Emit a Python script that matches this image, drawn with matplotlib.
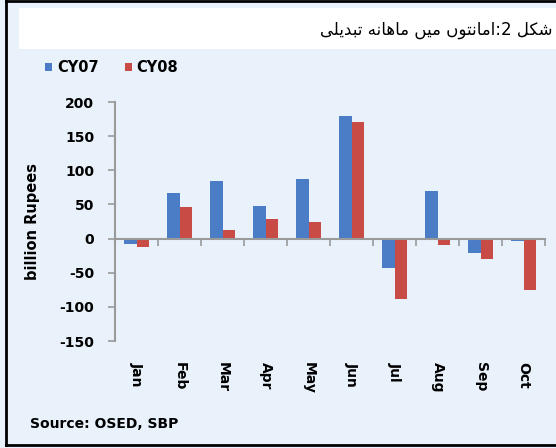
import matplotlib
matplotlib.use("Agg")
import matplotlib.pyplot as plt
import numpy as np
from matplotlib.patches import Rectangle
from matplotlib.lines import Line2D

# ---------------- data ----------------
months = ["Jan", "Feb", "Mar", "Apr", "May", "Jun", "Jul", "Aug", "Sep", "Oct"]
cy07 = [-8, 67, 85, 47, 87, 180, -43, 70, -21, -4]
cy08 = [-13, 46, 13, 29, 24, 171, -88, -10, -30, -75]
series_names = ["CY07", "CY08"]
yticks = [-150, -100, -50, 0, 50, 100, 150, 200]
title_text = "شکل 2:امانتوں میں ماہانہ تبدیلی"
ylabel_text = "billion Rupees"
source_text = "Source: OSED, SBP"

# ------------- simple Arabic/Urdu shaping (presentation forms) -------------
# (heh goal final/initial/medial forms are not in any installed font, so the
#  visually equivalent heh forms are used for them)
FORMS = {
    "ش": ("\uFEB5", "\uFEB6", "\uFEB7", "\uFEB8"),
    "ک": ("\uFB8E", "\uFB8F", "\uFB90", "\uFB91"),
    "ل": ("\uFEDD", "\uFEDE", "\uFEDF", "\uFEE0"),
    "ا": ("\uFE8D", "\uFE8E", None, None),
    "م": ("\uFEE1", "\uFEE2", "\uFEE3", "\uFEE4"),
    "ن": ("\uFEE5", "\uFEE6", "\uFEE7", "\uFEE8"),
    "ت": ("\uFE95", "\uFE96", "\uFE97", "\uFE98"),
    "و": ("\uFEED", "\uFEEE", None, None),
    "ں": ("\uFB9E", "\uFB9F", None, None),
    "ی": ("\uFBFC", "\uFBFD", "\uFBFE", "\uFBFF"),
    "ہ": ("\uFBA6", "\uFEEA", "\uFEEB", "\uFEEC"),
    "ب": ("\uFE8F", "\uFE90", "\uFE91", "\uFE92"),
    "د": ("\uFEA9", "\uFEAA", None, None),
}


def shape_rtl(s):
    out = []
    n = len(s)
    for i, c in enumerate(s):
        if c not in FORMS:
            out.append(c)
            continue
        iso, fin, ini, med = FORMS[c]
        prev = s[i - 1] if i > 0 else None
        nxt = s[i + 1] if i < n - 1 else None
        join_prev = prev in FORMS and FORMS[prev][2] is not None
        join_next = nxt in FORMS and ini is not None
        if join_prev and join_next:
            out.append(med)
        elif join_prev:
            out.append(fin)
        elif join_next:
            out.append(ini)
        else:
            out.append(iso)
    return "".join(reversed(out))


# ---------------- figure ----------------
W, H = 556, 448
fig = plt.figure(figsize=(W / 100, H / 100), dpi=100)
bg = "#E9F2FB"
fig.patch.set_facecolor(bg)

def fx(px):
    return px / W

def fy(py):
    return 1 - py / H

# title white band
fig.patches.append(Rectangle((fx(19), fy(49)), 1 - fx(19), fy(8) - fy(49),
                             transform=fig.transFigure, facecolor="white",
                             edgecolor="none", zorder=0))
# black frame (left, top, bottom)
for xs, ys in [([fx(6), fx(6)], [fy(1), fy(445)]),
               ([fx(6), 1], [fy(1), fy(1)]),
               ([fx(6), 1], [fy(445), fy(445)])]:
    fig.lines.append(Line2D(xs, ys, transform=fig.transFigure, color="black", lw=2))

fig.text(fx(553), fy(30), shape_rtl(title_text), ha="right", va="center",
         fontsize=12, family=["DejaVu Sans"], color="black")

ax = fig.add_axes([fx(115), fy(341), fx(545) - fx(115), fy(102) - fy(341)])
ax.set_facecolor("none")

x = np.arange(len(months))
w = 0.29
blue = "#4A7DC6"
red = "#C84B46"
b1 = ax.bar(x - w / 2, cy07, width=w, color=blue, label=series_names[0], zorder=3)
b2 = ax.bar(x + w / 2, cy08, width=w, color=red, label=series_names[1], zorder=3)

ax.set_xlim(-0.5, len(months) - 0.5)
ax.set_ylim(-150, 200)

axis_col = "#9A9A9A"
for s in ["top", "right"]:
    ax.spines[s].set_visible(False)
ax.spines["left"].set_color(axis_col)
ax.spines["left"].set_linewidth(1.5)
ax.spines["bottom"].set_position(("data", 0))
ax.spines["bottom"].set_color(axis_col)
ax.spines["bottom"].set_linewidth(1.5)
ax.spines["bottom"].set_zorder(4)

ax.set_yticks(yticks)
ax.set_yticklabels([str(v) for v in yticks], fontsize=10, fontweight="bold")
ax.tick_params(axis="y", direction="out", length=5, width=1.2, color=axis_col, pad=10)

ax.set_xticks(np.arange(len(months) + 1) - 0.5)
ax.set_xticklabels([])
ax.tick_params(axis="x", direction="out", length=5, width=1.2, color=axis_col)

sec = ax.secondary_xaxis("bottom")
sec.set_xticks(x)
sec.set_xticklabels(months, rotation=-90, fontsize=10, fontweight="bold",
                    va="top", ha="center")
sec.tick_params(length=0, pad=15)
sec.spines["bottom"].set_visible(False)

fig.text(fx(33), fy(221), ylabel_text, rotation=90, ha="center", va="center",
         fontsize=10.5, fontweight="bold")

fig.legend(handles=[b1, b2], labels=series_names, loc="center left",
           bbox_to_anchor=(fx(32), fy(68)), ncol=2, frameon=False,
           handlelength=0.5, handleheight=0.5, handletextpad=0.3,
           columnspacing=1.8, prop={"weight": "bold", "size": 10.5})

fig.text(fx(30), fy(424), source_text, ha="left", va="center",
         fontsize=10, fontweight="bold")

fig.savefig("out.png", dpi=100, facecolor=fig.get_facecolor())
